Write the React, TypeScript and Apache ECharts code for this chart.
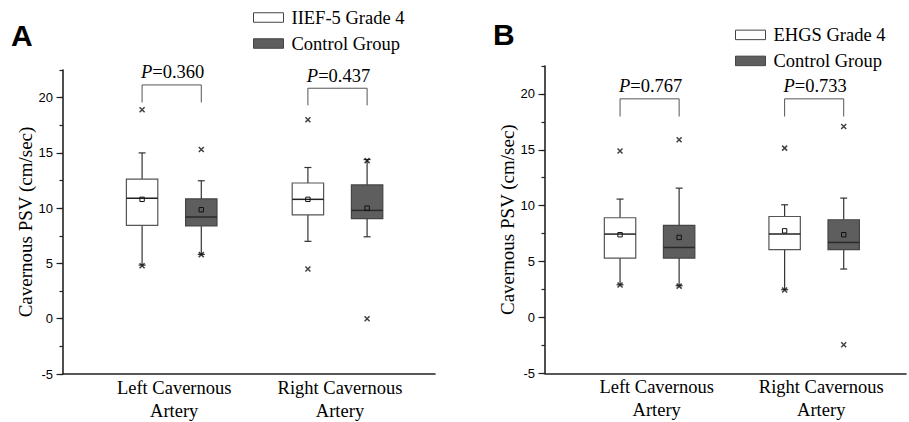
import React, { useEffect, useRef } from 'react';
import * as echarts from 'echarts';

// ---------- data ----------
const categories = ['Left Cavernous\nArtery', 'Right Cavernous\nArtery'];
const categoryPos = [1, 3];
const majorTicks = [-5, 0, 5, 10, 15, 20];
const minorTicks = [-5, -2.5, 0, 2.5, 5, 7.5, 10, 12.5, 15, 17.5, 20, 22.5];
const yLabel = 'Cavernous PSV (cm/sec)';

// box stats per category: [lower whisker, Q1, median, Q3, upper whisker, mean]
const panelA_grade4 = [
  [4.85, 8.45, 10.9, 12.63, 15.0, 10.8],
  [7.0, 9.4, 10.8, 12.28, 13.68, 10.8],
];
const panelA_control = [
  [5.82, 8.4, 9.2, 10.84, 12.48, 9.86],
  [7.41, 9.05, 9.8, 12.1, 14.4, 10.0],
];
// min / max markers: [category index, value]
const panelA_grade4Out = [[0, 18.9], [0, 4.8], [1, 18.0], [1, 4.5]];
const panelA_controlOut = [[0, 15.3], [0, 5.8], [1, 14.3], [1, 0.0]];
const panelA_pValues = ['0.360', '0.437'];
const panelA_bracket = [[21.15, 19.56], [20.85, 19.3]];

const panelB_grade4 = [
  [2.92, 5.31, 7.46, 8.92, 10.59, 7.4],
  [2.48, 6.06, 7.46, 9.03, 10.08, 7.75],
];
const panelB_control = [
  [2.84, 5.31, 6.26, 8.23, 11.57, 7.16],
  [4.33, 6.06, 6.71, 8.74, 10.68, 7.4],
];
const panelB_grade4Out = [[0, 14.9], [0, 2.9], [1, 15.15], [1, 2.45]];
const panelB_controlOut = [[0, 15.9], [0, 2.8], [1, 17.08], [1, -2.44]];
const panelB_pValues = ['0.767', '0.733'];
const panelB_bracket = [[19.56, 17.98], [19.56, 17.98]];

// ---------- styles ----------
const SERIF = 'Liberation Serif';
const SANS = 'Liberation Sans';
const AXIS_COLOR = '#222';
const DARK = '#5e5e5e';

type Panel = {
  grid: any;
  xMin: number;
  xMax: number;
  offsets: number[];
  groupName: string;
  grade4: number[][];
  control: number[][];
  grade4Out: number[][];
  controlOut: number[][];
  pValues: string[];
  bracket: number[][];
  legendLeft: number;
  legendTop: number;
  letter: string;
  letterX: number;
  letterY: number;
};

const panels: Panel[] = [
  {
    grid: { left: 63, top: 70, width: 372, height: 306.5 },
    xMin: -0.341,
    xMax: 4.146,
    offsets: [-0.387, 0.327],
    groupName: 'IIEF-5 Grade 4',
    grade4: panelA_grade4,
    control: panelA_control,
    grade4Out: panelA_grade4Out,
    controlOut: panelA_controlOut,
    pValues: panelA_pValues,
    bracket: panelA_bracket,
    legendLeft: 253,
    legendTop: 8,
    letter: 'A',
    letterX: 11,
    letterY: 35,
  },
  {
    grid: { left: 545, top: 66, width: 361, height: 307.3 },
    xMin: -0.357,
    xMax: 4.03,
    offsets: [-0.445, 0.273],
    groupName: 'EHGS Grade 4',
    grade4: panelB_grade4,
    control: panelB_control,
    grade4Out: panelB_grade4Out,
    controlOut: panelB_controlOut,
    pValues: panelB_pValues,
    bracket: panelB_bracket,
    legendLeft: 735,
    legendTop: 25.4,
    letter: 'B',
    letterX: 493,
    letterY: 34.5,
  },
];

function boxRender(fill: string, stroke: string, medianColor: string) {
  return (params: any, api: any) => {
    const x = api.value(0);
    const lo = api.coord([x, api.value(1)]);
    const q1 = api.coord([x, api.value(2)]);
    const med = api.coord([x, api.value(3)]);
    const q3 = api.coord([x, api.value(4)]);
    const hi = api.coord([x, api.value(5)]);
    const mean = api.coord([x, api.value(6)]);
    const cx = q1[0];
    const hw = 15.7;
    const cap = 3.5;
    const lineStyle = { stroke: '#333', lineWidth: 1.2 };
    return {
      type: 'group',
      children: [
        { type: 'line', shape: { x1: cx, y1: q3[1], x2: cx, y2: hi[1] }, style: lineStyle },
        { type: 'line', shape: { x1: cx, y1: q1[1], x2: cx, y2: lo[1] }, style: lineStyle },
        { type: 'line', shape: { x1: cx - cap, y1: hi[1], x2: cx + cap, y2: hi[1] }, style: lineStyle },
        { type: 'line', shape: { x1: cx - cap, y1: lo[1], x2: cx + cap, y2: lo[1] }, style: lineStyle },
        {
          type: 'rect',
          shape: { x: cx - hw, y: q3[1], width: hw * 2, height: q1[1] - q3[1] },
          style: { fill, stroke, lineWidth: 1.2 },
        },
        {
          type: 'line',
          shape: { x1: cx - hw, y1: med[1], x2: cx + hw, y2: med[1] },
          style: { stroke: medianColor, lineWidth: 1.5 },
        },
        {
          type: 'rect',
          shape: { x: cx - 2.2, y: mean[1] - 2.2, width: 4.4, height: 4.4 },
          style: { fill: 'none', stroke: '#111', lineWidth: 1 },
        },
      ],
    };
  };
}

function bracketRender(pValues: string[]) {
  return (params: any, api: any) => {
    const x1 = api.value(0);
    const x2 = api.value(1);
    const a = api.coord([x1, api.value(3)]);
    const b = api.coord([x1, api.value(2)]);
    const c = api.coord([x2, api.value(2)]);
    const d = api.coord([x2, api.value(3)]);
    const idx = api.value(4);
    return {
      type: 'group',
      children: [
        {
          type: 'polyline',
          shape: { points: [a, b, c, d] },
          style: { stroke: '#555', lineWidth: 1, fill: 'none' },
        },
        {
          type: 'text',
          x: (b[0] + c[0]) / 2 + 1,
          y: b[1] - 12.5,
          style: {
            text: '{i|P}=' + pValues[idx],
            rich: { i: { fontStyle: 'italic', fontFamily: SERIF, fontSize: 18.5, fill: '#000' } },
            fontFamily: SERIF,
            fontSize: 18.5,
            fill: '#000',
            align: 'center',
            verticalAlign: 'middle',
          },
        },
      ],
    };
  };
}

function buildOption() {
  const grid: any[] = [];
  const xAxis: any[] = [];
  const yAxis: any[] = [];
  const series: any[] = [];
  const legend: any[] = [];
  const graphic: any[] = [];

  panels.forEach((p, pi) => {
    grid.push({ ...p.grid, containLabel: false });
    xAxis.push({
      type: 'value',
      gridIndex: pi,
      min: p.xMin,
      max: p.xMax,
      axisLine: { show: true, onZero: false, lineStyle: { color: AXIS_COLOR, width: 1.6 } },
      axisTick: { show: false },
      splitLine: { show: false },
      axisLabel: {
        customValues: categoryPos,
        formatter: (v: number) => categories[categoryPos.indexOf(v)] ?? '',
        fontFamily: SERIF,
        fontSize: 18.5,
        lineHeight: 23,
        color: '#000',
        margin: 2,
      },
    });
    yAxis.push({
      type: 'value',
      gridIndex: pi,
      position: 'left',
      min: -5,
      max: 22.5,
      name: yLabel,
      nameLocation: 'middle',
      nameGap: 28,
      nameTextStyle: { fontFamily: SERIF, fontSize: 19, color: '#000' },
      axisLine: { show: true, onZero: false, lineStyle: { color: AXIS_COLOR, width: 1.6 } },
      axisTick: { show: true, customValues: majorTicks, length: 6.5, lineStyle: { color: AXIS_COLOR, width: 1.2 } },
      axisLabel: {
        customValues: majorTicks,
        fontFamily: SANS,
        fontSize: 13,
        color: '#000',
        margin: 10,
      },
      splitLine: { show: false },
    });
    yAxis.push({
      type: 'value',
      gridIndex: pi,
      position: 'left',
      min: -5,
      max: 22.5,
      axisLine: { show: false, onZero: false },
      axisTick: { show: true, customValues: minorTicks, length: 3.5, lineStyle: { color: AXIS_COLOR, width: 1.2 } },
      axisLabel: { show: false },
      splitLine: { show: false },
    });

    const yIdx = pi * 2;
    const boxData = (stats: number[][], s: number) =>
      stats.map((st, ci) => [categoryPos[ci] + p.offsets[s], ...st]);
    const outData = (out: number[][], s: number) =>
      out.map(([ci, v]) => [categoryPos[ci] + p.offsets[s], v]);

    series.push({
      type: 'custom',
      name: p.groupName,
      xAxisIndex: pi,
      yAxisIndex: yIdx,
      itemStyle: { color: '#fff' },
      renderItem: boxRender('#fff', '#555', '#222'),
      data: boxData(p.grade4, 0),
      z: 3,
    });
    series.push({
      type: 'custom',
      name: 'Control Group',
      xAxisIndex: pi,
      yAxisIndex: yIdx,
      itemStyle: { color: DARK },
      renderItem: boxRender(DARK, '#444', '#2a2a2a'),
      data: boxData(p.control, 1),
      z: 3,
    });
    [p.grade4Out, p.controlOut].forEach((out, s) => {
      series.push({
        type: 'scatter',
        name: s === 0 ? p.groupName : 'Control Group',
        xAxisIndex: pi,
        yAxisIndex: yIdx,
        symbol: 'path://M0,0L10,10M0,10L10,0',
        symbolSize: 5,
        itemStyle: { color: 'none', borderColor: '#111', borderWidth: 1.5 },
        data: outData(out, s),
        z: 4,
      });
    });
    series.push({
      type: 'custom',
      xAxisIndex: pi,
      yAxisIndex: yIdx,
      renderItem: bracketRender(p.pValues),
      data: p.bracket.map((b, ci) => [
        categoryPos[ci] + p.offsets[0],
        categoryPos[ci] + p.offsets[1],
        b[0],
        b[1],
        ci,
      ]),
      z: 5,
    });

    legend.push({
      left: p.legendLeft,
      top: p.legendTop,
      orient: 'vertical',
      padding: 0,
      itemWidth: 30,
      itemHeight: 9.5,
      itemGap: 7,
      selectedMode: false,
      textStyle: { fontFamily: SERIF, fontSize: 18.5, color: '#000', padding: [0, 0, 0, 3] },
      data: [
        { name: p.groupName, icon: 'rect', itemStyle: { color: '#fff', borderColor: '#444', borderWidth: 1 } },
        { name: 'Control Group', icon: 'rect', itemStyle: { color: DARK, borderColor: '#444', borderWidth: 1 } },
      ],
    });

    graphic.push({
      type: 'text',
      x: p.letterX,
      y: p.letterY,
      style: {
        text: p.letter,
        fontFamily: SANS,
        fontWeight: 'bold',
        fontSize: 30,
        fill: '#000',
        align: 'left',
        verticalAlign: 'middle',
      },
    });
  });

  return {
    animation: false,
    backgroundColor: '#fff',
    grid,
    xAxis,
    yAxis,
    series,
    legend,
    graphic,
  };
}

export default function App() {
  const ref = useRef<HTMLDivElement>(null);
  useEffect(() => {
    if (!ref.current) return;
    const chart = echarts.init(ref.current, undefined, { renderer: 'svg' });
    chart.setOption(buildOption() as any);
    return () => chart.dispose();
  }, []);
  return (
    <div
      ref={ref}
      style={{ position: 'absolute', left: 0, top: 0, width: 909, height: 422, background: '#fff' }}
    />
  );
}
